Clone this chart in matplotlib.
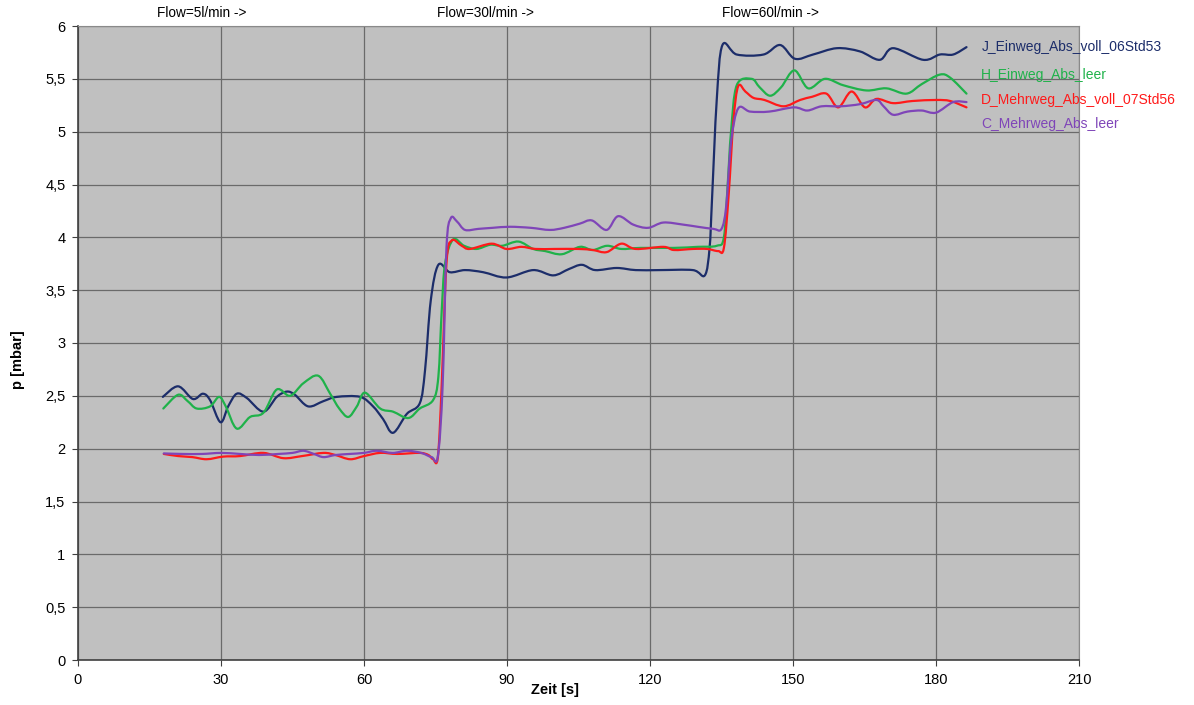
import matplotlib
matplotlib.use("Agg")
from matplotlib import pyplot as plt
from matplotlib.path import Path
from matplotlib.patches import PathPatch
import numpy as np

plt.rcParams['font.family'] = ['Liberation Sans', 'DejaVu Sans']

# --- data ---
j_x = [17.8, 21, 24.1, 26.2, 27.7, 29.9, 31.5, 33.3, 35.4, 38.9, 41.7, 43.8, 45.5, 48.3,
       51.5, 54.3, 59.2, 61.9, 64, 66.1, 69, 71.7, 72.8, 74, 75.6, 78, 81.2, 85, 89.9,
       95.5, 99.7, 103, 105.7, 108.5, 113, 117, 122, 129, 131.5, 132.5, 133, 134, 135.2,
       138.2, 143.8, 147.3, 150.4, 154.2, 159.2, 164, 168.2, 171, 177.3, 180.8, 183.6, 186.4]
j_y = [2.49, 2.59, 2.47, 2.52, 2.46, 2.25, 2.40, 2.52, 2.48, 2.35, 2.49, 2.54, 2.51, 2.40,
       2.45, 2.49, 2.49, 2.40, 2.28, 2.15, 2.33, 2.43, 2.74, 3.40, 3.74, 3.67, 3.69, 3.67, 3.62,
       3.69, 3.64, 3.70, 3.74, 3.69, 3.71, 3.69, 3.69, 3.69, 3.64, 3.90, 4.35, 5.30, 5.82,
       5.73, 5.73, 5.82, 5.69, 5.73, 5.79, 5.76, 5.68, 5.79, 5.68, 5.73, 5.73, 5.80]

h_x = [17.9, 21, 23, 24.9, 27.7, 29.6, 31, 33.3, 36.1, 38.9, 41.7, 44.5, 47.3, 50.4, 52.9,
       54.8, 56.7, 58.5, 60.2, 63.4, 66.1, 69.3, 71.7, 74.5, 75.6, 76.3, 77, 78.7, 81, 83.6,
       86.5, 89, 92.4, 95.5, 98, 101.5, 105.3, 108, 111, 114, 118, 125, 130, 134, 135.5,
       136.3, 137, 138.2, 141.3, 143, 145.2, 147.5, 150.3, 153.2, 156.7, 160.5, 165.4,
       169.6, 173.8, 177, 180.8, 183, 186.4]
h_y = [2.38, 2.51, 2.45, 2.38, 2.40, 2.49, 2.40, 2.19, 2.30, 2.34, 2.56, 2.50, 2.62, 2.69, 2.52,
       2.38, 2.30, 2.40, 2.53, 2.38, 2.35, 2.29, 2.38, 2.46, 2.68, 3.30, 3.75, 3.98, 3.92, 3.89,
       3.93, 3.92, 3.96, 3.89, 3.87, 3.84, 3.91, 3.88, 3.92, 3.89, 3.90, 3.90, 3.91, 3.92, 4.00,
       4.50, 5.00, 5.44, 5.50, 5.42, 5.34, 5.42, 5.58, 5.41, 5.50, 5.44, 5.39,
       5.41, 5.36, 5.45, 5.54, 5.51, 5.36]

d_x = [18, 21, 24, 27, 30.5, 34, 38.9, 43.1, 47, 51.5, 54, 57.1, 60, 63.4, 67, 71.7, 73.5,
       74.5, 75.5, 76.3, 77.3, 78.4, 80.5, 82.2, 86.8, 89.9, 93, 96, 100, 105, 108, 110.9,
       114, 117, 122.8, 125, 129, 132, 134.3, 135.5, 136.5, 137.5, 138.5, 140, 141.7, 144,
       148, 151.5, 154, 157, 159.5, 162.3, 165.1, 167.5, 171, 175, 180, 183, 186.4]
d_y = [1.95, 1.93, 1.92, 1.90, 1.925, 1.93, 1.96, 1.91, 1.93, 1.96, 1.94, 1.90, 1.93, 1.96, 1.95,
       1.96, 1.94, 1.90, 1.92, 2.60, 3.75, 3.97, 3.92, 3.89, 3.94, 3.89, 3.91, 3.89, 3.89, 3.89,
       3.88, 3.86, 3.94, 3.89, 3.91, 3.88, 3.89, 3.89, 3.87, 3.90, 4.40, 5.10, 5.43, 5.38, 5.32,
       5.30, 5.24, 5.30, 5.33, 5.36, 5.23, 5.38, 5.23, 5.31, 5.27, 5.29, 5.30, 5.29, 5.23]

c_x = [18, 22, 26, 30, 34, 38, 42, 45, 47.3, 49.5, 51.5, 54, 57, 60, 62.7, 66, 69, 72, 74.2,
       75.5, 76.5, 77.3, 78.2, 79.5, 81.2, 84, 87, 90.6, 95, 99, 102, 105.3, 107.8, 110.9,
       113.3, 116.5, 119.6, 122.8, 127, 130, 133.3, 135, 136, 137, 138.5, 141, 145, 150.2,
       153, 156, 160, 164, 167.5, 169, 171, 174, 177, 180, 183.6, 186.4]
c_y = [1.955, 1.95, 1.95, 1.96, 1.95, 1.94, 1.95, 1.96, 1.98, 1.95, 1.92, 1.94, 1.95, 1.96,
       1.98, 1.96, 1.98, 1.96, 1.92, 1.93, 2.60, 3.90, 4.18, 4.15, 4.07, 4.08, 4.09, 4.10, 4.09,
       4.07, 4.09, 4.13, 4.16, 4.07, 4.20, 4.12, 4.09, 4.14, 4.12, 4.10, 4.08, 4.08, 4.30, 4.90,
       5.22, 5.19, 5.19, 5.23, 5.20, 5.24, 5.24, 5.26, 5.30, 5.24, 5.16, 5.19, 5.20, 5.18, 5.28, 5.28]

series_names = ['J_Einweg_Abs_voll_06Std53', 'H_Einweg_Abs_leer',
                'D_Mehrweg_Abs_voll_07Std56', 'C_Mehrweg_Abs_leer']
label_y = [5.80, 5.54, 5.30, 5.07]
flow_labels = ['Flow=5l/min ->', 'Flow=30l/min ->', 'Flow=60l/min ->']
flow_x = [16.6, 75.3, 135]

colors = ['#1c2d6a', '#1fb24a', '#ff1a1a', '#7f45b8']


def smooth_path(x, y, k=6.0):
    # Excel-style smoothed line: bezier segments through the given points
    p = np.column_stack([x, y]).astype(float)
    n = len(p)
    verts = [p[0]]
    codes = [Path.MOVETO]
    for i in range(n - 1):
        p0 = p[max(i - 1, 0)]
        p1 = p[i]
        p2 = p[i + 1]
        p3 = p[min(i + 2, n - 1)]
        verts += [p1 + (p2 - p0) / k, p2 - (p3 - p1) / k, p2]
        codes += [Path.CURVE4] * 3
    return Path(verts, codes)


fig = plt.figure(figsize=(11.94, 7.05), dpi=100)
ax = fig.add_axes([78 / 1194, 1 - 660 / 705, 1001 / 1194, 634 / 705])
ax.set_facecolor('#c0c0c0')

series = [(j_x, j_y), (h_x, h_y), (d_x, d_y), (c_x, c_y)]
for (x, y), col in zip(series, colors):
    ax.add_patch(PathPatch(smooth_path(x, y), fill=False, edgecolor=col,
                           lw=1.6, zorder=3, capstyle='round', joinstyle='round'))

# labels at the right end of the lines
for name, yy, col in zip(series_names, label_y, colors):
    ax.text(189.5, yy, name, color=col, fontsize=10, va='center', ha='left',
            clip_on=False, zorder=5)

# flow annotations above the plot
for lab, fx in zip(flow_labels, flow_x):
    ax.text(fx, 1.01, lab, transform=ax.get_xaxis_transform(), fontsize=9.8,
            ha='left', va='bottom')

ax.set_xlim(0, 210)
ax.set_ylim(0, 6)
ax.set_xticks(np.arange(0, 211, 30))
yt = np.arange(0, 6.01, 0.5)
ax.set_yticks(yt)
ax.set_yticklabels([('%g' % v).replace('.', ',') for v in yt])
ax.tick_params(labelsize=10.5, length=4, color='#404040', pad=5)
ax.grid(True, color='#6a6a6a', lw=0.9, zorder=1)
ax.set_axisbelow(True)

for side in ['top', 'right']:
    ax.spines[side].set_color('#8a8a8a')
for side in ['left', 'bottom']:
    ax.spines[side].set_color('#404040')
    ax.spines[side].set_linewidth(1.2)

fig.text(555 / 1194, 1 - 690 / 705, 'Zeit [s]', fontsize=10.5, fontweight='bold',
         ha='center', va='center')
fig.text(18 / 1194, 1 - 360 / 705, 'p [mbar]', fontsize=10.5, fontweight='bold',
         ha='center', va='center', rotation=90)

fig.savefig('out.png', dpi=100)
